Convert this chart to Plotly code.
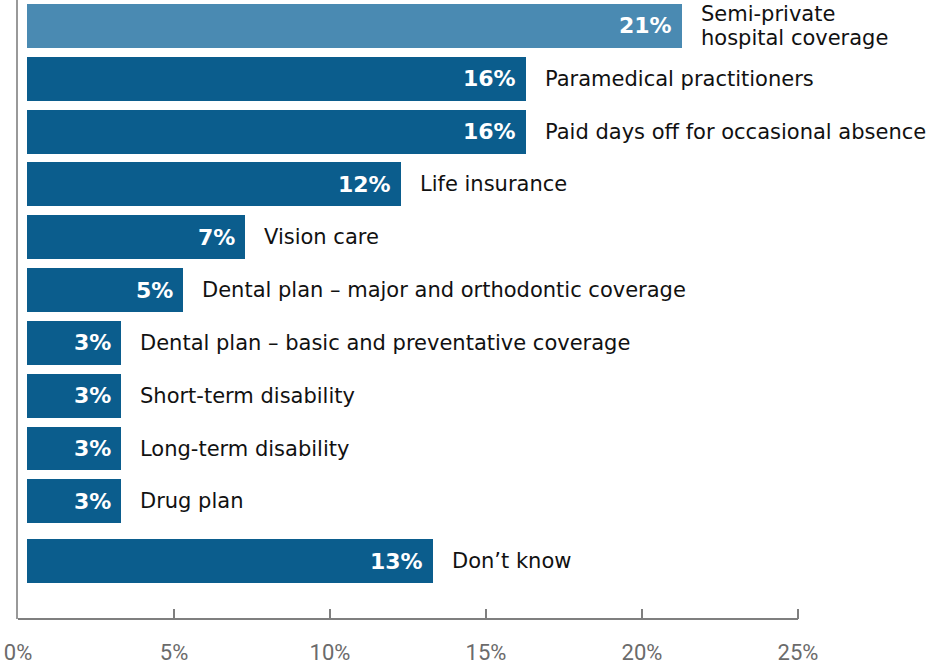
import plotly.graph_objects as go

# Benefit categories, top to bottom
categories = [
    "Semi-private<br>hospital coverage",
    "Paramedical practitioners",
    "Paid days off for occasional absence",
    "Life insurance",
    "Vision care",
    "Dental plan – major and orthodontic coverage",
    "Dental plan – basic and preventative coverage",
    "Short-term disability",
    "Long-term disability",
    "Drug plan",
    "Don’t know",
]
# Share of respondents (%)
values = [21, 16, 16, 12, 7, 5, 3, 3, 3, 3, 13]

tick_values = [0, 5, 10, 15, 20, 25]
tick_labels = ["0%", "5%", "10%", "15%", "20%", "25%"]

# --- styling / layout constants ---
HIGHLIGHT = "#4a8ab2"
BAR = "#0b5d8d"
AXIS_GREY = "#7f7f7f"
FIG_W, FIG_H = 935, 665
M_L, M_B = 18, 44
PX_PER_PCT = 31.2          # horizontal scale of the axis
BAR_OFFSET_PX = 9          # bars start slightly right of the axis line
ROW_PITCH_PX = 53
FIRST_ROW_PX = 26
DONT_KNOW_GAP = 0.13       # extra separation before the last row
LINE_PITCH_PX = 24         # line spacing for multi-line labels

plot_w = FIG_W - M_L
plot_h = FIG_H - M_B
x2_max = plot_w / PX_PER_PCT
x_off = BAR_OFFSET_PX / PX_PER_PCT

# Row positions (last row set slightly apart)
rows = [float(i) for i in range(len(categories))]
rows[-1] += DONT_KNOW_GAP
y_top = -FIRST_ROW_PX / ROW_PITCH_PX
y_bot = y_top + plot_h / ROW_PITCH_PX

colors = [HIGHLIGHT] + [BAR] * (len(values) - 1)

fig = go.Figure()
fig.add_trace(go.Bar(
    x=values, y=rows, orientation="h",
    width=44 / ROW_PITCH_PX,
    marker=dict(color=colors, line=dict(width=0)),
    hoverinfo="skip", showlegend=False,
))

annotations = []
for name, v, r in zip(categories, values, rows):
    # value inside the bar, right-aligned
    annotations.append(dict(
        x=v, y=r, xref="x", yref="y", text=f"{v}%",
        xanchor="right", yanchor="middle", xshift=-8, showarrow=False,
        font=dict(family="DejaVu Sans", size=22, color="white", weight="bold"),
    ))
    # category name to the right of the bar (one annotation per line)
    lines = name.split("<br>")
    n = len(lines)
    for k, line in enumerate(lines):
        annotations.append(dict(
            x=v, y=r, xref="x", yref="y", text=line,
            xanchor="left", yanchor="middle", align="left",
            xshift=17, yshift=((n - 1) / 2 - k) * LINE_PITCH_PX,
            showarrow=False,
            font=dict(family="DejaVu Sans", size=21, color="#111111"),
        ))

fig.update_layout(
    width=FIG_W, height=FIG_H,
    margin=dict(l=M_L, r=0, t=0, b=M_B),
    paper_bgcolor="white", plot_bgcolor="white",
    bargap=0,
    xaxis=dict(range=[-x_off, x2_max - x_off], visible=False, fixedrange=True),
    xaxis2=dict(
        overlaying="x", side="bottom", anchor="y",
        range=[0, x2_max],
        tickmode="array", tickvals=tick_values, ticktext=tick_labels,
        ticks="inside", ticklen=10, tickwidth=2, tickcolor=AXIS_GREY,
        ticklabelstandoff=18,
        tickfont=dict(family="Roboto", size=22, color="#6b6b6b"),
        showline=False, showgrid=False, zeroline=False,
    ),
    yaxis=dict(
        range=[y_bot, y_top],
        showline=True, linecolor="#999999", linewidth=2,
        showticklabels=False, ticks="", showgrid=False, zeroline=False,
    ),
    annotations=annotations,
    shapes=[dict(
        type="line", xref="x2", yref="paper",
        x0=0, x1=25, y0=0, y1=0,
        line=dict(color=AXIS_GREY, width=2),
    )],
)

# Invisible point that activates the secondary axis carrying the ticks
fig.add_trace(go.Scatter(x=[0], y=[rows[0]], xaxis="x2", yaxis="y",
                         mode="markers", marker=dict(opacity=0),
                         hoverinfo="skip", showlegend=False))

fig.write_html("out.html")
